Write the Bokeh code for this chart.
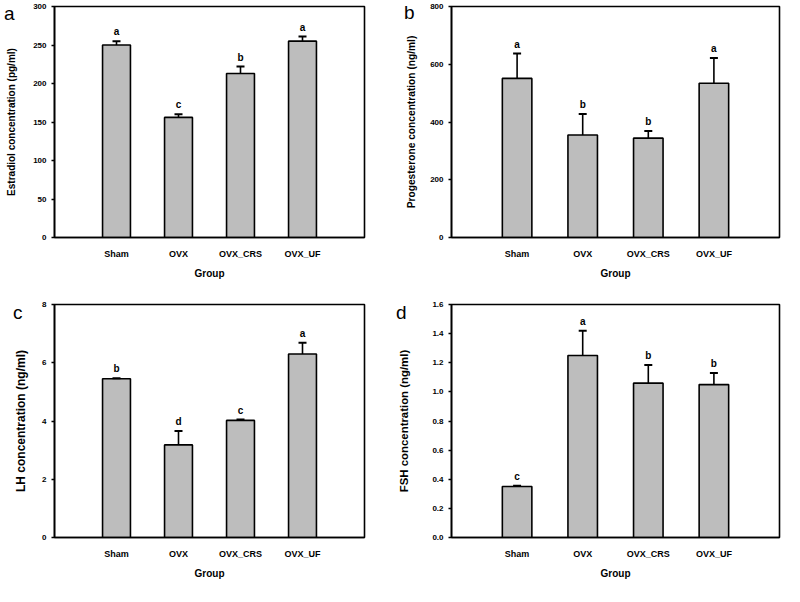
from bokeh.plotting import figure
from bokeh.layouts import gridplot
from bokeh.models import (FactorRange, Range1d, FixedTicker, ColumnDataSource,
                          NumeralTickFormatter, LinearAxis)
from bokeh.core.properties import value
from bokeh.embed import file_html
from bokeh.resources import INLINE

groups = ["Sham", "OVX", "OVX_CRS", "OVX_UF"]

estradiol = [250, 156, 213, 255]
estradiol_err = [5, 4, 9, 6]
estradiol_sig = ["a", "c", "b", "a"]
estradiol_ticks = [0, 50, 100, 150, 200, 250, 300]

progesterone = [551, 355, 344, 534]
progesterone_err = [86, 73, 25, 88]
progesterone_sig = ["a", "b", "b", "a"]
progesterone_ticks = [0, 200, 400, 600, 800]

lh = [5.45, 3.18, 4.02, 6.30]
lh_err = [0.02, 0.48, 0.03, 0.39]
lh_sig = ["b", "d", "c", "a"]
lh_ticks = [0, 2, 4, 6, 8]

fsh = [0.35, 1.25, 1.06, 1.05]
fsh_err = [0.005, 0.17, 0.125, 0.08]
fsh_sig = ["c", "a", "b", "b"]
fsh_ticks = [0.0, 0.2, 0.4, 0.6, 0.8, 1.0, 1.2, 1.4, 1.6]

FONT = "Liberation Sans"


def panel(letter, vals, errs, sigs, ticks, ylabel, fmt, w, h, bl, br, bt, bb,
          ylab_size, ylab_standoff, letter_drop):
    p = figure(width=w, height=h, output_backend="svg", toolbar_location=None,
               x_range=FactorRange(*groups, range_padding=0.25, range_padding_units="percent"),
               y_range=Range1d(ticks[0], ticks[-1]),
               min_border_left=bl, min_border_right=br, min_border_top=bt, min_border_bottom=bb)
    src = ColumnDataSource(dict(g=groups, v=vals, hi=[v + e for v, e in zip(vals, errs)], s=sigs))
    p.vbar(x="g", top="v", bottom=0, width=0.45, source=src,
           fill_color="#bdbdbd", line_color="black", line_width=1.6)
    p.segment(x0="g", y0="v", x1="g", y1="hi", source=src, line_color="black", line_width=1.6)
    p.scatter(x="g", y="hi", source=src, marker="dash", size=8, line_color="black", line_width=2)
    p.text(x="g", y="hi", text="s", source=src, text_align="center", text_baseline="bottom",
           y_offset=-4, text_font=value(FONT), text_font_style="bold", text_font_size="10px",
           text_color="black")
    p.xgrid.visible = False
    p.ygrid.visible = False
    p.outline_line_color = "black"
    p.outline_line_width = 1.6
    p.outline_line_alpha = 1

    p.yaxis.ticker = FixedTicker(ticks=ticks)
    p.yaxis.formatter = NumeralTickFormatter(format=fmt)
    p.yaxis.axis_label = ylabel
    p.xaxis.axis_label = "Group"
    for ax in (p.xaxis[0], p.yaxis[0]):
        ax.axis_line_color = "black"
        ax.axis_line_width = 1.6
        ax.major_label_text_font = FONT
        ax.major_label_text_font_style = "bold"
        ax.major_label_text_color = "black"
        ax.axis_label_text_font = FONT
        ax.axis_label_text_font_style = "bold"
        ax.axis_label_text_color = "black"
        ax.minor_tick_line_color = None
    p.yaxis.major_label_text_font_size = "8px"
    p.yaxis.axis_label_text_font_size = ylab_size
    p.yaxis.major_tick_out = 3
    p.yaxis.major_tick_in = 0
    p.yaxis.major_tick_line_width = 1.5
    p.yaxis.major_label_standoff = 5
    p.yaxis.axis_label_standoff = ylab_standoff
    p.xaxis.major_label_text_font_size = "9px"
    p.xaxis.major_tick_line_color = None
    p.xaxis.major_label_standoff = 5
    p.xaxis.axis_label_standoff = 6
    p.xaxis.axis_label_text_font_size = "10px"

    # panel letter, drawn as the single tick label of an extra, line-less left axis
    top = ticks[-1]
    frame_h = h - bt - bb
    tick_pos = top - letter_drop * (top - ticks[0]) / frame_h
    lax = LinearAxis(ticker=FixedTicker(ticks=[tick_pos]),
                     major_label_overrides={tick_pos: letter},
                     axis_line_color=None, major_tick_line_color=None,
                     minor_tick_line_color=None, major_tick_out=0, major_tick_in=0,
                     major_label_standoff=-11,
                     major_label_text_font=FONT, major_label_text_font_size="19px",
                     major_label_text_color="black")
    p.add_layout(lax, "left")
    return p


pa = panel("a", estradiol, estradiol_err, estradiol_sig, estradiol_ticks,
           "Estradiol concentration (pg/ml)", "0", 392, 293, 49, 18, 6, 56, "10px", 13, 2)
pb = panel("b", progesterone, progesterone_err, progesterone_sig, progesterone_ticks,
           "Progesterone concentration (ng/ml)", "0", 392, 293, 51, 5, 6, 56, "10.2px", 10, 3)
pc = panel("c", lh, lh_err, lh_sig, lh_ticks,
           "LH concentration (ng/ml)", "0", 392, 293, 38, 28, 9, 49, "12px", 11, 8)
pd = panel("d", fsh, fsh_err, fsh_sig, fsh_ticks,
           "FSH concentration (ng/ml)", "0.0", 392, 293, 49, 3, 11, 41, "11.4px", 19, 8)

grid = gridplot([[pa, pb], [pc, pd]], toolbar_location=None)

open("out.html", "w").write(file_html(grid, INLINE))
